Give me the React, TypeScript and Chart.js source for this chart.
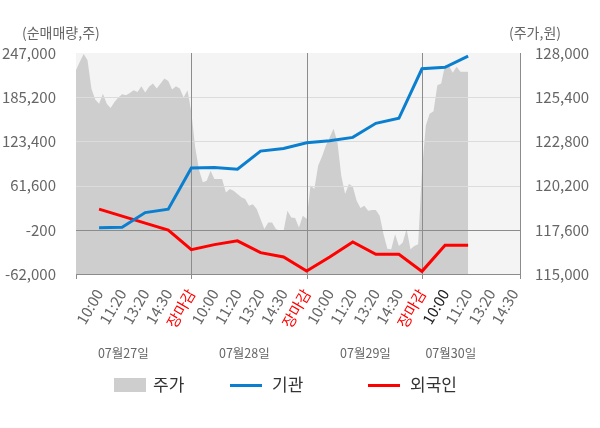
import { useEffect, useRef } from "react"
import { Chart, registerables } from "chart.js"

Chart.register(...registerables)

const FONT = "'Noto Sans CJK KR', 'Noto Sans', sans-serif"

const DATES = ["07월27일", "07월28일", "07월29일", "07월30일"]
const TIME_LABELS = [
  "10:00", "11:20", "13:20", "14:30", "장마감",
  "10:00", "11:20", "13:20", "14:30", "장마감",
  "10:00", "11:20", "13:20", "14:30", "장마감",
  "10:00", "11:20", "13:20", "14:30",
]
const LEFT_TICKS = [-62000, -200, 61600, 123400, 185200, 247000]
const RIGHT_TICKS = [115000, 117600, 120200, 122800, 125400, 128000]
const BASE_LINE = -200

// 기관 / 외국인 순매매량 (one point per time slot)
const INSTITUTION = [
  2600, 3500, 23900, 28700, 86300, 86900, 84500, 109800, 113500,
  121400, 124200, 129000, 148700, 155700, 224900, 227100, 242600,
]
const FOREIGN = [
  28700, 18900, 9100, -700, -27900, -20900, -15600, -32100, -38100,
  -57800, -38100, -17100, -34500, -34500, -58300, -21800, -21800,
]

// 주가, six samples per time slot
const PRICE_0727 = [
  127000, 127490, 127940, 127580, 125910, 125260, 125020, 125610, 125020, 124760,
  125120, 125380, 125580, 125520, 125650, 125810, 125710, 126050, 125670, 126010,
  126200, 125910, 126200, 126500, 126360, 125850, 126050, 125910, 125380, 125810,
]
const PRICE_0728 = [
  124530, 122460, 121120, 120390, 120490, 121080, 120590, 120590, 120590, 119800,
  120000, 119900, 119700, 119510, 119410, 119010, 119110, 118820, 118230, 117640,
  118030, 118030, 117640, 117540, 117540, 118720, 118320, 118290, 117730, 118420,
]
const PRICE_0729 = [
  118230, 120200, 120000, 121380, 121910, 122560, 123050, 123540, 122760, 120790,
  119700, 120290, 120140, 119310, 118880, 119010, 118720, 118760, 118760, 118420,
  117340, 116490, 116450, 117340, 116650, 116850, 117640, 116450, 116650, 116750,
]
const PRICE_0730 = [
  121080, 123740, 124430, 124570, 126110, 126200, 127290, 127250, 126840, 127190,
  126890, 126890, 126890,
]

const SLOTS_PER_DAY = 5
const SAMPLES_PER_SLOT = 6

const COLORS = {
  price: "#cecece",
  inst: "#0a7fcf",
  foreign: "#ff0000",
  plotBg: "#f4f4f4",
  grid: "#dcdcdc",
  axis: "#8c8c8c",
  text: "#666666",
}

const framePlugin = {
  id: "frame",
  beforeDatasetsDraw(chart: any) {
    const { ctx, chartArea: a } = chart
    ctx.save()
    ctx.fillStyle = COLORS.plotBg
    ctx.fillRect(a.left, a.top, a.right - a.left, a.bottom - a.top)
    ctx.restore()
  },
  afterDatasetDraw(chart: any, args: any) {
    if (args.index !== 0) return
    const { ctx, chartArea: a, scales } = chart
    ctx.save()
    ctx.lineWidth = 1
    for (const v of LEFT_TICKS.slice(1, -1)) {
      const y = Math.round(scales.y.getPixelForValue(v)) + 0.5
      ctx.strokeStyle = v === BASE_LINE ? COLORS.axis : COLORS.grid
      ctx.beginPath()
      ctx.moveTo(a.left, y)
      ctx.lineTo(a.right, y)
      ctx.stroke()
    }
    ctx.strokeStyle = COLORS.axis
    for (let d = 1; d < DATES.length; d++) {
      const x = Math.round(scales.x.getPixelForValue(d * SLOTS_PER_DAY)) + 0.5
      ctx.beginPath()
      ctx.moveTo(x, a.top)
      ctx.lineTo(x, a.bottom)
      ctx.stroke()
    }
    ctx.restore()
  },
  afterDraw(chart: any) {
    const { ctx, chartArea: a, scales } = chart
    ctx.save()
    // tick marks at day boundaries
    ctx.strokeStyle = COLORS.axis
    ctx.lineWidth = 1
    const marks = [0, 5, 10, 15].map((v) => scales.x.getPixelForValue(v)).concat([a.right])
    for (const mx of marks) {
      const x = Math.round(mx) + 0.5
      ctx.beginPath()
      ctx.moveTo(x, a.bottom)
      ctx.lineTo(x, a.bottom + 5)
      ctx.stroke()
    }

    // axis titles
    ctx.fillStyle = COLORS.text
    ctx.font = `14px ${FONT}`
    ctx.textBaseline = "middle"
    ctx.textAlign = "left"
    ctx.fillText("(순매매량,주)", 22, 33)
    ctx.fillText("(주가,원)", 509, 33)

    // dates under the time labels
    ctx.font = `12.5px ${FONT}`
    ctx.textAlign = "center"
    const dateSlots = [2.05, 7.3, 12.55, 16.25]
    DATES.forEach((d, i) => {
      ctx.fillText(d, scales.x.getPixelForValue(dateSlots[i]), 353)
    })

    // legend
    const ly = 385
    ctx.font = `17px ${FONT}`
    ctx.textAlign = "left"
    ctx.fillStyle = COLORS.price
    ctx.fillRect(114, ly - 7, 32, 14)
    ctx.fillStyle = "#333"
    ctx.fillText("주가", 153, ly)
    ctx.lineWidth = 3
    ctx.strokeStyle = COLORS.inst
    ctx.beginPath()
    ctx.moveTo(230, ly + 0.5)
    ctx.lineTo(262, ly + 0.5)
    ctx.stroke()
    ctx.fillText("기관", 272, ly)
    ctx.strokeStyle = COLORS.foreign
    ctx.beginPath()
    ctx.moveTo(368, ly + 0.5)
    ctx.lineTo(400, ly + 0.5)
    ctx.stroke()
    ctx.fillText("외국인", 410, ly)
    ctx.restore()
  },
}

export default function App() {
  const canvasRef = useRef<HTMLCanvasElement>(null)

  useEffect(() => {
    const canvas = canvasRef.current
    if (!canvas) return

    const price = [PRICE_0727, PRICE_0728, PRICE_0729, PRICE_0730].flatMap((day, d) =>
      day.map((v, k) => ({ x: d * SLOTS_PER_DAY + k / SAMPLES_PER_SLOT, y: v })),
    )
    const inst = INSTITUTION.map((v, i) => ({ x: i + 1, y: v }))
    const foreign = FOREIGN.map((v, i) => ({ x: i + 1, y: v }))

    const chart = new Chart(canvas, {
      type: "line",
      data: {
        datasets: [
          {
            label: "주가",
            data: price,
            yAxisID: "y1",
            borderWidth: 0,
            backgroundColor: COLORS.price,
            fill: "start",
            pointRadius: 0,
            order: 2,
          },
          {
            label: "기관",
            data: inst,
            yAxisID: "y",
            borderColor: COLORS.inst,
            borderWidth: 3,
            pointRadius: 0,
            fill: false,
            order: 0,
          },
          {
            label: "외국인",
            data: foreign,
            yAxisID: "y",
            borderColor: COLORS.foreign,
            borderWidth: 3,
            pointRadius: 0,
            fill: false,
            order: 1,
          },
        ],
      },
      options: {
        animation: false,
        responsive: true,
        maintainAspectRatio: false,
        layout: { padding: { top: 53, bottom: 94, left: 0, right: 0 } },
        plugins: { legend: { display: false }, tooltip: { enabled: false } },
        scales: {
          x: {
            type: "linear",
            min: 0,
            max: 19.25,
            afterBuildTicks: (axis: any) => {
              axis.ticks = TIME_LABELS.map((_, i) => ({ value: i + 1 }))
            },
            afterFit: (axis: any) => {
              axis.height = 60
            },
            grid: { display: false },
            border: { color: COLORS.axis },
            ticks: {
              autoSkip: false,
              minRotation: 60,
              maxRotation: 60,
              padding: 4,
              font: { family: FONT, size: 15 },
              color: (c: any) =>
                c.tick?.label === "장마감" ? "#ff0000" : c.index === 15 ? "#222222" : COLORS.text,
              callback: (_v: any, i: number) => TIME_LABELS[i],
            },
          },
          y: {
            position: "left",
            min: LEFT_TICKS[0],
            max: LEFT_TICKS[LEFT_TICKS.length - 1],
            afterBuildTicks: (axis: any) => {
              axis.ticks = LEFT_TICKS.map((v) => ({ value: v }))
            },
            afterFit: (axis: any) => {
              axis.width = 76
            },
            grid: { display: false },
            border: { color: COLORS.axis },
            ticks: {
              padding: 12,
              color: COLORS.text,
              font: { family: FONT, size: 15 },
              callback: (v: any) => Number(v).toLocaleString("en-US"),
            },
          },
          y1: {
            position: "right",
            min: RIGHT_TICKS[0],
            max: RIGHT_TICKS[RIGHT_TICKS.length - 1],
            afterBuildTicks: (axis: any) => {
              axis.ticks = RIGHT_TICKS.map((v) => ({ value: v }))
            },
            afterFit: (axis: any) => {
              axis.width = 80
            },
            grid: { display: false },
            border: { color: COLORS.axis },
            ticks: {
              padding: 7,
              color: COLORS.text,
              font: { family: FONT, size: 15 },
              callback: (v: any) => Number(v).toLocaleString("en-US"),
            },
          },
        },
      },
      plugins: [framePlugin],
    })

    return () => chart.destroy()
  }, [])

  return (
    <div style={{ position: "fixed", left: 0, top: 0, width: 600, height: 428, background: "#fff" }}>
      <canvas ref={canvasRef} />
    </div>
  )
}
